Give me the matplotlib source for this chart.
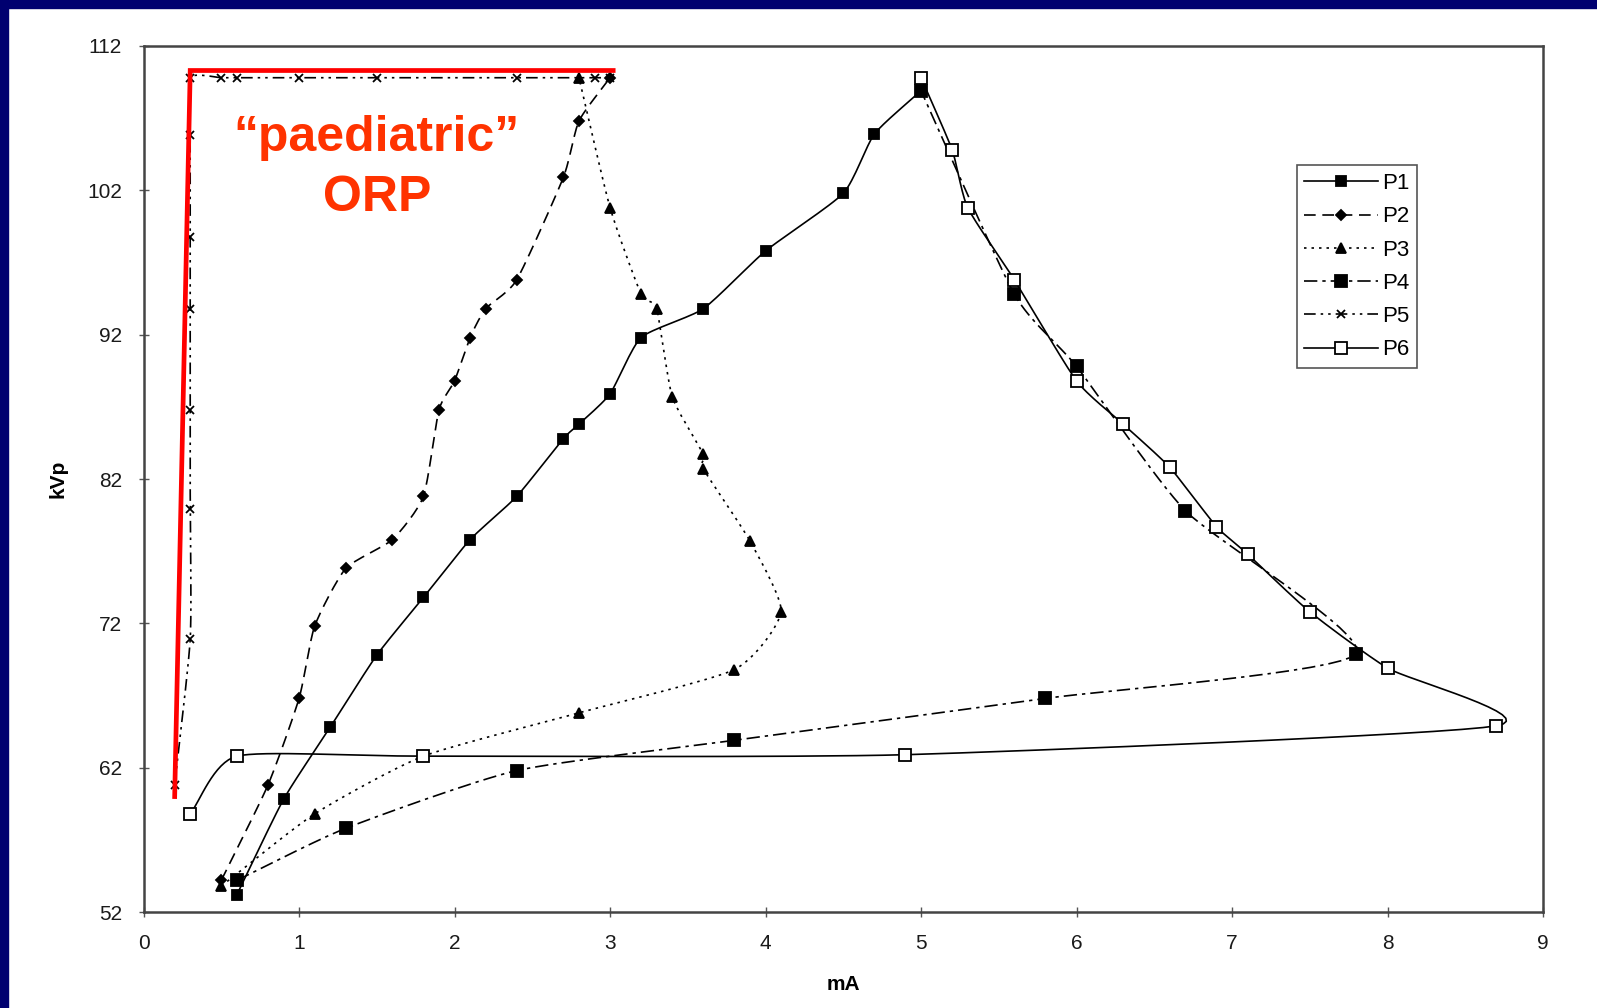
import numpy as np
import matplotlib.pyplot as plt
from matplotlib.patches import Rectangle

# kVp vs mA for the six programmes
p1_ma = [0.6, 0.9, 1.2, 1.5, 1.8, 2.1, 2.4, 2.7, 2.8, 3.0, 3.2, 3.6, 4.0, 4.5, 4.7, 5.0]
p1_kvp = [53.2, 59.8, 64.8, 69.8, 73.8, 77.8, 80.8, 84.8, 85.8, 87.9, 91.8, 93.8, 97.8, 101.8, 105.9, 108.9]

p2_ma = [0.5, 0.8, 1.0, 1.1, 1.3, 1.6, 1.8, 1.9, 2.0, 2.1, 2.2, 2.4, 2.7, 2.8, 3.0]
p2_kvp = [54.2, 60.8, 66.8, 71.8, 75.8, 77.8, 80.8, 86.8, 88.8, 91.8, 93.8, 95.8, 102.9, 106.8, 109.8]

p3_ma = [0.5, 1.1, 1.8, 2.8, 3.8, 4.1, 3.9, 3.6, 3.6, 3.4, 3.3, 3.2, 3.0, 2.8]
p3_kvp = [53.8, 58.8, 62.8, 65.8, 68.8, 72.8, 77.7, 82.7, 83.7, 87.7, 93.8, 94.8, 100.8, 109.8]

p4_ma = [0.6, 1.3, 2.4, 3.8, 5.8, 7.8, 6.7, 6.0, 5.6, 5.0]
p4_kvp = [54.2, 57.8, 61.8, 63.9, 66.8, 69.9, 79.8, 89.8, 94.8, 108.9]

p5_ma = [0.2, 0.3, 0.3, 0.3, 0.3, 0.3, 0.3, 0.3, 0.5, 0.6, 1.0, 1.5, 2.4, 2.9, 3.0]
p5_kvp = [60.8, 70.9, 79.9, 86.8, 93.8, 98.8, 105.8, 109.8, 109.8, 109.8, 109.8, 109.8, 109.8, 109.8, 109.8]

p6_ma = [0.3, 0.6, 1.8, 4.9, 8.7, 8.0, 7.5, 7.1, 6.9, 6.6, 6.3, 6.0, 5.6, 5.3, 5.2, 5.0]
p6_kvp = [58.8, 62.8, 62.8, 62.9, 64.9, 68.9, 72.8, 76.8, 78.7, 82.8, 85.8, 88.8, 95.8, 100.8, 104.8, 109.8]

# red "paediatric ORP" outline
orp_ma = [0.2, 0.3, 3.02]
orp_kvp = [60.0, 110.3, 110.3]

y_ticks = [52, 62, 72, 82, 92, 102, 112]


def smooth(x, y, k=0.6, n=16):
    # cardinal spline through the points (spreadsheet-style "smoothed line")
    # done in pixel-ish space so the x/y scales don't distort the tangents
    sxs, sys_ = 152.7, 14.17
    p = np.column_stack([np.asarray(x) * sxs, np.asarray(y) * sys_]).astype(float)
    m = np.zeros_like(p)
    m[1:-1] = k * (p[2:] - p[:-2]) / 2
    m[0] = k * (p[1] - p[0])
    m[-1] = k * (p[-1] - p[-2])
    t = np.linspace(0, 1, n, endpoint=False)[:, None]
    h00 = 2 * t ** 3 - 3 * t ** 2 + 1
    h10 = t ** 3 - 2 * t ** 2 + t
    h01 = -2 * t ** 3 + 3 * t ** 2
    h11 = t ** 3 - t ** 2
    out = []
    for i in range(len(p) - 1):
        out.append(h00 * p[i] + h10 * m[i] + h01 * p[i + 1] + h11 * m[i + 1])
    out.append(p[-1][None, :])
    out = np.vstack(out)
    return out[:, 0] / sxs, out[:, 1] / sys_


plt.rcParams['font.family'] = ['Liberation Sans', 'DejaVu Sans']

fig = plt.figure(figsize=(15.97, 10.08), dpi=100)
fig.patch.set_facecolor('white')
# navy slide border on top and left
fig.add_artist(Rectangle((0, 0.992), 1, 0.008, transform=fig.transFigure, color='#000070', zorder=0))
fig.add_artist(Rectangle((0, 0), 0.005, 1, transform=fig.transFigure, color='#000070', zorder=0))

ax = fig.add_axes([0.0899, 0.0952, 0.8763, 0.8592])

series = [
    ('P1', p1_ma, p1_kvp, '-', 's', 'black', 7.5),
    ('P2', p2_ma, p2_kvp, (0, (7, 4)), 'D', 'black', 5),
    ('P3', p3_ma, p3_kvp, (0, (1.5, 3)), '^', 'black', 7),
    ('P4', p4_ma, p4_kvp, (0, (8, 3, 2, 3)), 's', 'black', 8),
    ('P5', p5_ma, p5_kvp, (0, (7, 3, 1.5, 3, 1.5, 3)), 'x', 'black', 6),
    ('P6', p6_ma, p6_kvp, '-', 's', 'white', 8),
]

for name, xs, ys, ls, mk, mfc, ms in series:
    sx, sy = smooth(xs, ys)
    ax.plot(sx, sy, color='black', lw=1.2, ls=ls, zorder=2)
    ax.plot(xs, ys, ls='none', marker=mk, ms=ms, mfc=mfc, mec='black', mew=1.3, zorder=3)

# legend proxies
handles = []
for name, xs, ys, ls, mk, mfc, ms in series:
    h, = ax.plot([], [], color='black', lw=1.2, ls=ls, marker=mk, ms=ms, mfc=mfc, mec='black', mew=1.3)
    handles.append(h)
leg = ax.legend(handles, [s[0] for s in series], loc='upper left', bbox_to_anchor=(0.824, 0.862),
                borderaxespad=0, fontsize=16, handlelength=3.3, labelspacing=0.55,
                handletextpad=0.2, borderpad=0.35, fancybox=False, framealpha=1)
leg.get_frame().set_edgecolor('#555555')
leg.get_frame().set_linewidth(1.2)

ax.plot(orp_ma, orp_kvp, color='#ff0000', lw=3.4, solid_joinstyle='miter', zorder=4)
ax.text(1.5, 105.6, '\u201cpaediatric\u201d', color='#ff3300', fontsize=36, fontweight='bold',
        ha='center', va='center', zorder=5)
ax.text(1.5, 101.5, 'ORP', color='#ff3300', fontsize=36, fontweight='bold',
        ha='center', va='center', zorder=5)

ax.set_xlim(0, 9)
ax.set_ylim(52, 112)
ax.set_xticks(range(10))
ax.set_yticks(y_ticks)
ax.tick_params(axis='both', direction='inout', length=7, width=1, color='#555555',
               labelsize=15, labelcolor='#1a1a1a')
ax.tick_params(axis='y', pad=12)
ax.tick_params(axis='x', pad=12)
for s in ax.spines.values():
    s.set_color('#444444')
    s.set_linewidth(1.8)

ax.set_xlabel('mA', fontsize=15, fontweight='bold', labelpad=16)
ax.set_ylabel('kVp', fontsize=15, fontweight='bold', labelpad=14)

fig.savefig('out.png', dpi=100)
